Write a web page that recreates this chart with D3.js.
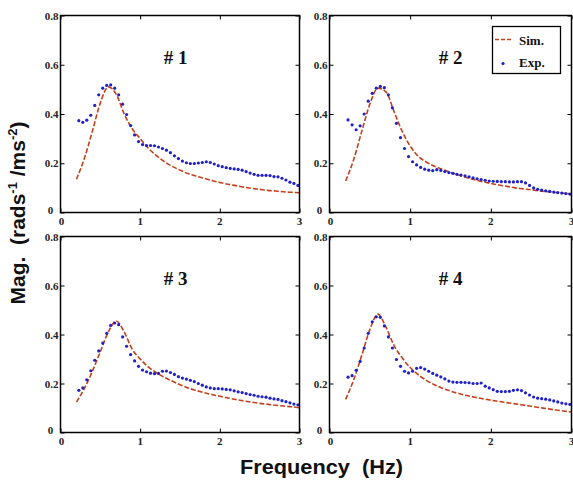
<!DOCTYPE html>
<html><head><meta charset="utf-8">
<script src="https://cdn.jsdelivr.net/npm/d3@7"></script>
<style>body{margin:0;background:#fff;} svg{display:block;}</style>
</head><body>
<svg id="c" width="573" height="483"></svg>
<script>
// ---- data ----
const xTicks = [0, 1, 2, 3];
const yTicks = [0, 0.2, 0.4, 0.6, 0.8];
const yTickLabels = ["0", "0.2", "0.4", "0.6", "0.8"];
const titles = ["# 1", "# 2", "# 3", "# 4"];
const legendLabels = ["Sim.", "Exp."];

const expFreq = [0.23,0.28,0.33,0.38,0.43,0.48,0.53,0.58,0.63,0.68,0.73,0.78,0.83,0.88,0.93,0.98,
 1.03,1.08,1.13,1.18,1.23,1.28,1.33,1.38,1.43,1.48,1.53,1.58,1.63,1.68,1.73,1.78,1.83,1.88,1.93,1.98,
 2.03,2.08,2.13,2.18,2.23,2.28,2.33,2.38,2.43,2.48,2.53,2.58,2.63,2.68,2.73,2.78,2.83,2.88,2.93,2.98];

const expMag1 = [0.373,0.366,0.375,0.395,0.435,0.478,0.505,0.516,0.518,0.505,0.478,0.44,0.398,0.353,0.315,0.288,
 0.276,0.272,0.272,0.271,0.266,0.26,0.253,0.243,0.23,0.219,0.209,0.202,0.199,0.199,0.201,0.203,0.206,0.203,0.197,0.19,
 0.186,0.182,0.179,0.177,0.175,0.172,0.166,0.16,0.155,0.151,0.151,0.151,0.15,0.146,0.145,0.139,0.132,0.123,0.118,0.11];
const expMag2 = [0.376,0.356,0.336,0.352,0.400,0.452,0.484,0.505,0.512,0.507,0.478,0.425,0.362,0.304,0.26,0.227,
 0.206,0.193,0.183,0.176,0.172,0.17,0.174,0.171,0.166,0.162,0.159,0.155,0.152,0.149,0.145,0.141,0.137,0.134,0.131,0.128,
 0.127,0.126,0.125,0.125,0.124,0.124,0.125,0.125,0.12,0.11,0.1,0.094,0.091,0.088,0.086,0.083,0.081,0.079,0.077,0.075];
const expMag3 = [0.172,0.182,0.215,0.252,0.295,0.333,0.365,0.405,0.437,0.447,0.44,0.39,0.352,0.318,0.292,0.27,
 0.255,0.248,0.242,0.24,0.241,0.25,0.251,0.245,0.237,0.228,0.222,0.218,0.213,0.208,0.2,0.193,0.186,0.182,0.179,0.179,
 0.178,0.176,0.174,0.17,0.166,0.163,0.159,0.155,0.152,0.148,0.146,0.144,0.14,0.137,0.135,0.13,0.126,0.121,0.116,0.113];
const expMag4 = [0.226,0.232,0.254,0.29,0.345,0.405,0.452,0.472,0.47,0.435,0.39,0.345,0.298,0.27,0.25,0.243,
 0.25,0.262,0.265,0.259,0.25,0.241,0.234,0.227,0.219,0.21,0.206,0.205,0.205,0.204,0.203,0.2,0.2,0.202,0.189,0.182,
 0.175,0.168,0.167,0.167,0.168,0.172,0.174,0.171,0.162,0.153,0.145,0.14,0.138,0.136,0.133,0.129,0.125,0.12,0.117,0.115];

const simFreq = [0.2,0.3,0.4,0.5,0.6,0.7,0.8,0.9,1.0,1.1,1.2,1.3,1.4,1.5,1.6,1.7,1.8,1.9,2.0,
 2.1,2.2,2.3,2.4,2.5,2.6,2.7,2.8,2.9,3.0];
const simMag1 = [0.135,0.22,0.33,0.445,0.51,0.48,0.40,0.34,0.30,0.262,0.232,0.207,0.188,0.172,0.158,0.148,0.139,0.13,0.122,
 0.115,0.109,0.103,0.098,0.094,0.09,0.087,0.084,0.082,0.08];
const simMag2 = [0.128,0.215,0.33,0.44,0.505,0.49,0.41,0.33,0.27,0.228,0.205,0.188,0.175,0.163,0.152,0.142,0.133,0.125,0.118,
 0.112,0.106,0.1,0.096,0.092,0.088,0.084,0.081,0.078,0.075];
const simMag3 = [0.124,0.18,0.25,0.33,0.41,0.455,0.41,0.34,0.30,0.268,0.245,0.226,0.21,0.195,0.182,0.172,0.163,0.155,0.148,
 0.141,0.135,0.129,0.124,0.119,0.115,0.111,0.108,0.105,0.101];
const simMag4 = [0.135,0.215,0.315,0.42,0.483,0.43,0.355,0.305,0.265,0.236,0.213,0.195,0.181,0.169,0.159,0.151,0.144,0.138,0.132,
 0.127,0.122,0.117,0.112,0.107,0.102,0.097,0.092,0.088,0.084];

const expSeries = [expMag1, expMag2, expMag3, expMag4];
const simSeries = [simMag1, simMag2, simMag3, simMag4];

// ---- layout ----
const boxes = [
  {x0: 60.5, x1: 299.5, y0: 15.5, y1: 212.5},
  {x0: 329.5, x1: 571.5, y0: 15.5, y1: 212.5},
  {x0: 60.5, x1: 299.5, y0: 236.5, y1: 432.5},
  {x0: 329.5, x1: 571.5, y0: 236.5, y1: 432.5}
];
const SIM_COLOR = "#c4401c";
const EXP_COLOR = "#2020c8";
const SERIF = "'Liberation Serif','DejaVu Serif',serif";
const SANS = "'Liberation Sans',Arial,sans-serif";

const svg = d3.select("#c");

boxes.forEach((b, i) => {
  const x = d3.scaleLinear().domain([0, 3]).range([b.x0, b.x1]);
  const y = d3.scaleLinear().domain([0, 0.8]).range([b.y1, b.y0]);
  const g = svg.append("g");

  const tickLen = 4;
  g.append("g").attr("transform", `translate(0,${b.y1})`)
    .call(d3.axisBottom(x).tickValues(xTicks).tickSizeInner(-tickLen).tickSizeOuter(0).tickFormat(""));
  g.append("g").attr("transform", `translate(0,${b.y0})`)
    .call(d3.axisTop(x).tickValues(xTicks).tickSizeInner(-tickLen).tickSizeOuter(0).tickFormat(""));
  g.append("g").attr("transform", `translate(${b.x0},0)`)
    .call(d3.axisLeft(y).tickValues(yTicks).tickSizeInner(-tickLen).tickSizeOuter(0).tickFormat(""));
  g.append("g").attr("transform", `translate(${b.x1},0)`)
    .call(d3.axisRight(y).tickValues(yTicks).tickSizeInner(-tickLen).tickSizeOuter(0).tickFormat(""));
  g.selectAll(".domain").remove();
  g.selectAll(".tick line").attr("stroke", "#000").attr("stroke-width", 1);

  // tick labels
  g.selectAll(".xl").data(xTicks).enter().append("text")
    .attr("x", d => x(d) + (d === 0 ? 1 : 0)).attr("y", b.y1 + 12)
    .attr("text-anchor", "middle").attr("font-family", SERIF).attr("font-weight", "bold")
    .attr("font-size", 11).attr("fill", "#222").text(d => d);
  g.selectAll(".yl").data(yTicks).enter().append("text")
    .attr("x", d => d === 0 ? b.x0 - 10 : b.x0 - 2).attr("y", d => d === 0 ? y(d) + 1 : y(d) + 4)
    .attr("text-anchor", d => d === 0 ? "middle" : "end").attr("font-family", SERIF).attr("font-weight", "bold")
    .attr("font-size", 11).attr("fill", "#222").text((d, k) => yTickLabels[k]);

  // sim line
  const line = d3.line().x((d, k) => x(simFreq[k])).y(d => y(d)).curve(d3.curveMonotoneX);
  g.append("path").datum(simSeries[i]).attr("d", line)
    .attr("fill", "none").attr("stroke", SIM_COLOR).attr("stroke-width", 1.6)
    .attr("stroke-dasharray", "5,2");

  // exp dots
  g.selectAll(".ed").data(expSeries[i]).enter().append("circle")
    .attr("cx", (d, k) => x(expFreq[k])).attr("cy", d => y(d)).attr("r", 1.6)
    .attr("fill", EXP_COLOR);

  // box
  g.append("rect").attr("x", b.x0).attr("y", b.y0).attr("width", b.x1 - b.x0).attr("height", b.y1 - b.y0)
    .attr("fill", "none").attr("stroke", "#000").attr("stroke-width", 1.5);

  // title
  g.append("text").attr("x", b.x0 + (i % 2 === 0 ? 115 : 121)).attr("y", b.y0 + 48)
    .attr("text-anchor", "middle").attr("font-family", SERIF).attr("font-weight", "bold")
    .attr("font-size", 19).attr("fill", "#111").text(titles[i]);

  // legend in panel 2
  if (i === 1) {
    const lg = g.append("g");
    lg.append("rect").attr("x", 492.5).attr("y", 26.5).attr("width", 68).attr("height", 47)
      .attr("fill", "#fff").attr("stroke", "#000").attr("stroke-width", 1.3);
    lg.append("line").attr("x1", 495).attr("x2", 511).attr("y1", 39.5).attr("y2", 39.5)
      .attr("stroke", SIM_COLOR).attr("stroke-width", 1.5).attr("stroke-dasharray", "4,2");
    lg.append("circle").attr("cx", 503).attr("cy", 63.5).attr("r", 1.6).attr("fill", EXP_COLOR);
    lg.append("text").attr("x", 519).attr("y", 45).attr("font-family", SERIF).attr("font-weight", "bold")
      .attr("font-size", 13).attr("fill", "#111").text(legendLabels[0]);
    lg.append("text").attr("x", 519).attr("y", 67).attr("font-family", SERIF).attr("font-weight", "bold")
      .attr("font-size", 13).attr("fill", "#111").text(legendLabels[1]);
  }
});

// axis titles
svg.append("text").attr("x", 240).attr("y", 474)
  .attr("font-family", SANS).attr("font-weight", "bold").attr("font-size", 20).attr("fill", "#111")
  .attr("textLength", 163).attr("lengthAdjust", "spacingAndGlyphs")
  .style("white-space", "pre")
  .text("Frequency  (Hz)");

const yl = svg.append("text").attr("transform", "translate(25,213) rotate(-90)")
  .attr("text-anchor", "middle").attr("font-family", SANS).attr("font-weight", "bold")
  .attr("font-size", 21).attr("fill", "#111").style("white-space", "pre");
yl.append("tspan").text("Mag.  (rads");
yl.append("tspan").attr("font-size", 13).attr("dy", -8).text("-1");
yl.append("tspan").attr("dy", 8).text(" /ms");
yl.append("tspan").attr("font-size", 13).attr("dy", -8).text("-2");
yl.append("tspan").attr("dy", 8).text(")");
</script>
</body></html>
